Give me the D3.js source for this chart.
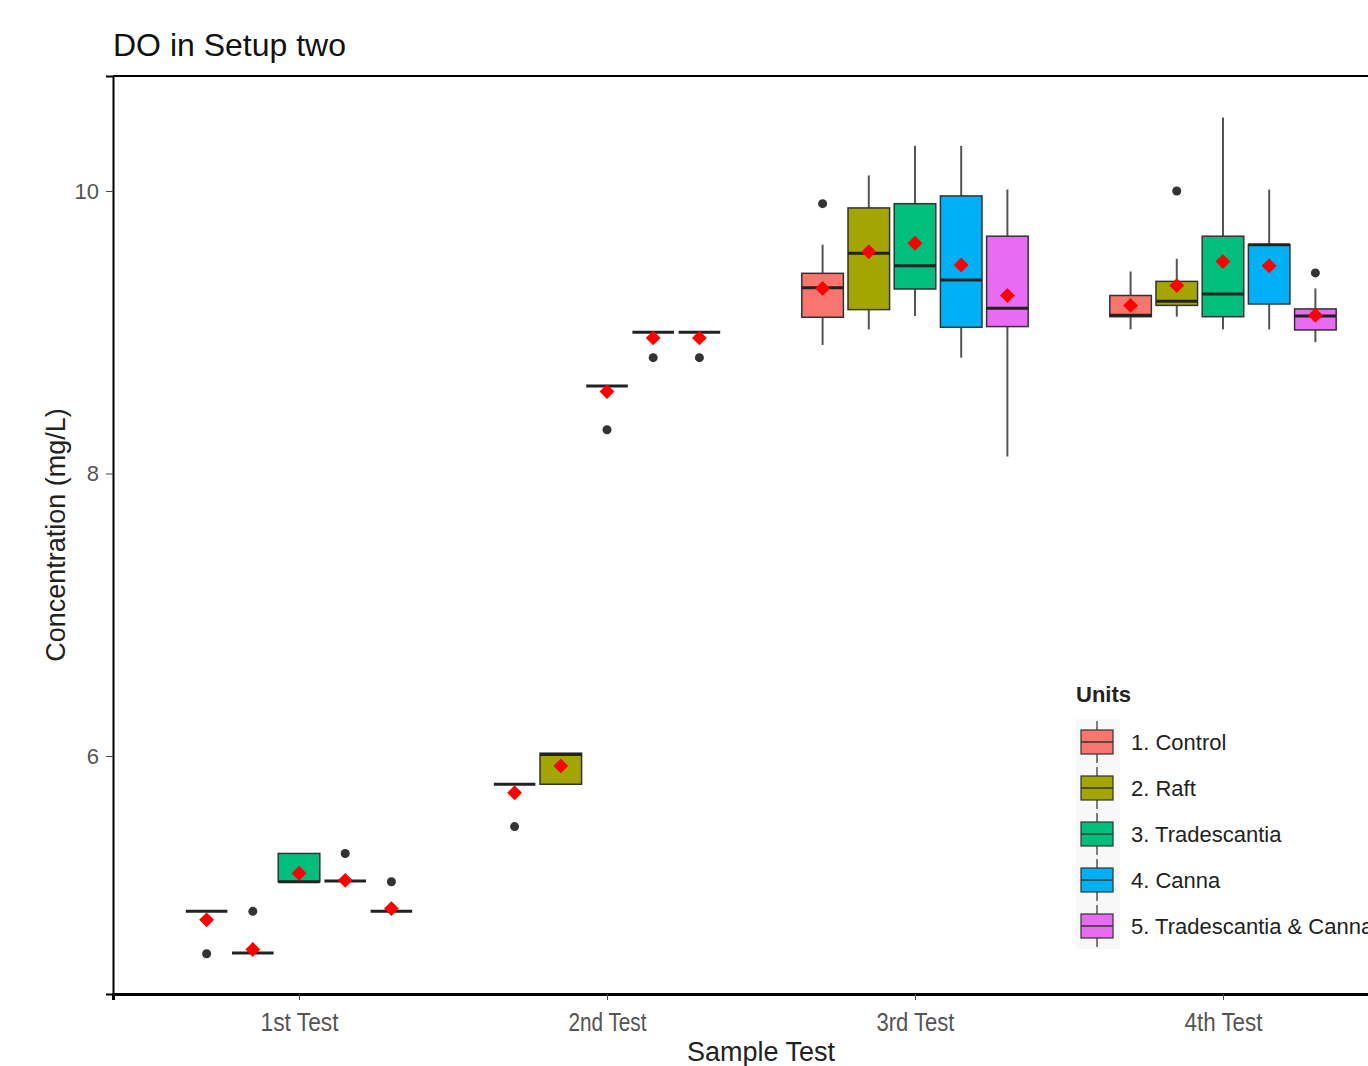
<!DOCTYPE html>
<html>
<head>
<meta charset="utf-8">
<script src="https://cdn.jsdelivr.net/npm/d3@7"></script>
<style>
  body { margin: 0; background: #fff; }
  text { font-family: "Liberation Sans", Arial, sans-serif; }
</style>
</head>
<body>
<div id="chart"></div>
<script>
// categories
const tests = ["1st Test", "2nd Test", "3rd Test", "4th Test"];
const units = ["1. Control", "2. Raft", "3. Tradescantia", "4. Canna", "5. Tradescantia & Canna"];
const unitColors = ["#F8766D", "#A3A500", "#00BF7D", "#00B0F6", "#E76BF3"];
const yTicks = [6, 8, 10];

// box statistics, one row per test, one value per unit
const whiskerLow = [
    [4.90, 4.605, 5.11, 5.115, 4.90],
    [5.80, 5.80, 8.62, 9.00, 9.00],
    [8.91, 9.02, 9.115, 8.82, 8.12],
    [9.02, 9.11, 9.02, 9.02, 8.93]
];
const q1 = [
    [4.90, 4.605, 5.11, 5.115, 4.90],
    [5.80, 5.80, 8.62, 9.00, 9.00],
    [9.106, 9.16, 9.306, 9.035, 9.04],
    [9.11, 9.19, 9.11, 9.20, 9.016]
];
const medians = [
    [4.90, 4.605, 5.11, 5.115, 4.90],
    [5.80, 6.01, 8.62, 9.00, 9.00],
    [9.315, 9.56, 9.47, 9.37, 9.17],
    [9.12, 9.22, 9.27, 9.62, 9.115]
];
const q3 = [
    [4.90, 4.605, 5.31, 5.115, 4.90],
    [5.80, 6.02, 8.62, 9.00, 9.00],
    [9.417, 9.88, 9.91, 9.965, 9.68],
    [9.26, 9.36, 9.68, 9.62, 9.165]
];
const whiskerHigh = [
    [4.90, 4.605, 5.31, 5.115, 4.90],
    [5.80, 6.02, 8.62, 9.00, 9.00],
    [9.62, 10.11, 10.32, 10.32, 10.01],
    [9.43, 9.52, 10.52, 10.01, 9.31]
];
const means = [
    [4.84, 4.63, 5.17, 5.12, 4.92],
    [5.74, 5.93, 8.58, 8.96, 8.96],
    [9.31, 9.57, 9.63, 9.476, 9.26],
    [9.19, 9.33, 9.50, 9.47, 9.12]
];
// outliers: [test index, unit index, value]
const outliers = [
    [0, 0, 4.60], [0, 1, 4.90], [0, 3, 5.31], [0, 4, 5.11],
    [1, 0, 5.50], [1, 2, 8.31], [1, 3, 8.82], [1, 4, 8.82],
    [2, 0, 9.91],
    [3, 1, 10.0], [3, 4, 9.42]
];

// set up SVG size
const svgWidth = 1368;
const svgHeight = 1066;
const margin = { top: 76, left: 113 };
const width = 1296;
const height = 918;

const svg = d3.select("#chart")
    .append("svg")
    .attr("width", svgWidth)
    .attr("height", svgHeight);

const chartGroup = svg.append("g")
    .attr("transform", `translate(${margin.left}, ${margin.top})`);

// scales
const xScale = d3.scalePoint()
    .domain(tests)
    .range([0, width])
    .padding(0.604);
const step = xScale.step();
const unitScale = d3.scaleBand()
    .domain(units)
    .range([-0.375 * step, 0.375 * step]);
const boxW = unitScale.bandwidth() * 0.9;

const yScale = d3.scaleLinear()
    .domain([4.315, 10.814])
    .range([height, 0]);

const color = d3.scaleOrdinal().domain(units).range(unitColors);

// flatten stats into rows
const boxes = [];
tests.forEach((t, i) => {
    units.forEach((u, j) => {
        boxes.push({
            test: t, unit: u,
            lo: whiskerLow[i][j], q1: q1[i][j], med: medians[i][j],
            q3: q3[i][j], hi: whiskerHigh[i][j], mean: means[i][j]
        });
    });
});
const cx = d => xScale(d.test) + unitScale(d.unit) + unitScale.bandwidth() / 2;

// axes
const bottomAxis = d3.axisBottom(xScale).tickSizeOuter(0).tickSize(6);
const leftAxis = d3.axisLeft(yScale).tickValues(yTicks).tickFormat(d3.format("d"))
    .tickSizeOuter(0).tickSize(7);

const xg = chartGroup.append("g")
    .attr("transform", `translate(0, ${height})`)
    .call(bottomAxis);
xg.select(".domain").attr("stroke", "#000").attr("stroke-width", 3);
xg.selectAll(".tick line").attr("stroke", "#444");
xg.selectAll(".tick text")
    .attr("fill", "#555")
    .attr("font-size", 26)
    .attr("y", 37)
    .attr("dy", 0)
    .attr("textLength", 78)
    .attr("lengthAdjust", "spacingAndGlyphs");

const yg = chartGroup.append("g").call(leftAxis);
yg.select(".domain").attr("stroke", "#000").attr("stroke-width", 2);
yg.selectAll(".tick line").attr("stroke", "#444");
yg.selectAll(".tick text")
    .attr("fill", "#555")
    .attr("font-size", 22)
    .attr("x", -14);

// top border
chartGroup.append("line")
    .attr("x1", 0).attr("x2", width)
    .attr("y1", 0).attr("y2", 0)
    .attr("stroke", "#000")
    .attr("stroke-width", 2);

// whiskers
chartGroup.selectAll(".whisker")
    .data(boxes)
    .join("line")
    .attr("class", "whisker")
    .attr("x1", cx).attr("x2", cx)
    .attr("y1", d => yScale(d.hi))
    .attr("y2", d => yScale(d.lo))
    .attr("stroke", "#555")
    .attr("stroke-width", 2);

// boxes
chartGroup.selectAll(".box")
    .data(boxes.filter(d => d.q3 > d.q1))
    .join("rect")
    .attr("class", "box")
    .attr("x", d => cx(d) - boxW / 2)
    .attr("width", boxW)
    .attr("y", d => yScale(d.q3))
    .attr("height", d => yScale(d.q1) - yScale(d.q3))
    .attr("fill", d => color(d.unit))
    .attr("stroke", "#333")
    .attr("stroke-width", 1.5);

// medians
chartGroup.selectAll(".median")
    .data(boxes)
    .join("line")
    .attr("class", "median")
    .attr("x1", d => cx(d) - boxW / 2)
    .attr("x2", d => cx(d) + boxW / 2)
    .attr("y1", d => yScale(d.med))
    .attr("y2", d => yScale(d.med))
    .attr("stroke", "#222")
    .attr("stroke-width", 3);

// outliers
chartGroup.selectAll(".outlier")
    .data(outliers)
    .join("circle")
    .attr("class", "outlier")
    .attr("cx", d => xScale(tests[d[0]]) + unitScale(units[d[1]]) + unitScale.bandwidth() / 2)
    .attr("cy", d => yScale(d[2]))
    .attr("r", 4.5)
    .attr("fill", "#333");

// means (red diamonds)
const diamond = d3.symbol().type(d3.symbolDiamond2).size(140);
chartGroup.selectAll(".mean")
    .data(boxes)
    .join("path")
    .attr("class", "mean")
    .attr("transform", d => `translate(${cx(d)}, ${yScale(d.mean)})`)
    .attr("d", diamond)
    .attr("fill", "#FF0000");

// axis labels
chartGroup.append("text")
    .attr("transform", "rotate(-90)")
    .attr("x", -(535 - margin.top))
    .attr("y", 65 - margin.left)
    .attr("text-anchor", "middle")
    .attr("font-size", 27)
    .attr("fill", "#222")
    .text("Concentration (mg/L)");

svg.append("text")
    .attr("x", margin.left + width / 2)
    .attr("y", 1061)
    .attr("text-anchor", "middle")
    .attr("font-size", 27)
    .attr("fill", "#222")
    .text("Sample Test");

// title
svg.append("text")
    .attr("x", 113)
    .attr("y", 56)
    .attr("font-size", 32)
    .attr("fill", "#111")
    .text("DO in Setup two");

// legend
const legend = svg.append("g").attr("transform", "translate(1076, 0)");
legend.append("text")
    .attr("x", 0).attr("y", 702)
    .attr("font-size", 22)
    .attr("font-weight", "bold")
    .attr("fill", "#222")
    .text("Units");

const rows = legend.selectAll(".key")
    .data(units)
    .join("g")
    .attr("class", "key")
    .attr("transform", (d, i) => `translate(0, ${742 + i * 46})`);
rows.append("rect")
    .attr("x", 0).attr("y", -23)
    .attr("width", 44).attr("height", 46)
    .attr("fill", "#f8f8f8");
rows.append("line")
    .attr("x1", 21).attr("x2", 21)
    .attr("y1", -21).attr("y2", 21)
    .attr("stroke", "#555")
    .attr("stroke-width", 1.5);
rows.append("rect")
    .attr("x", 5).attr("y", -12)
    .attr("width", 32).attr("height", 24)
    .attr("fill", d => color(d))
    .attr("stroke", "#333")
    .attr("stroke-width", 1.2);
rows.append("line")
    .attr("x1", 5).attr("x2", 37)
    .attr("y1", 0).attr("y2", 0)
    .attr("stroke", "#333")
    .attr("stroke-width", 1.5);
rows.append("text")
    .attr("x", 55).attr("y", 8)
    .attr("font-size", 22)
    .attr("fill", "#222")
    .text(d => d);
</script>
</body>
</html>
